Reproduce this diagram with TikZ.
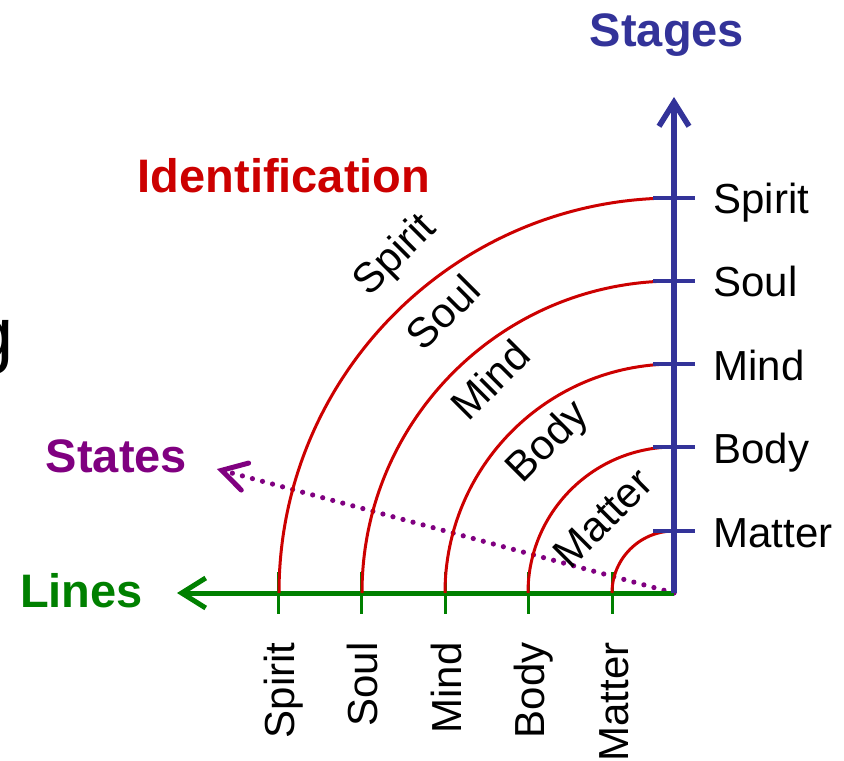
\documentclass[tikz,border=0pt]{standalone}
\usepackage{fontspec}
\setmainfont{Liberation Sans}
\usetikzlibrary{arrows.meta}
\definecolor{stblue}{RGB}{51,51,153}
\definecolor{stred}{RGB}{204,0,0}
\definecolor{stgreen}{RGB}{0,128,0}
\definecolor{stpurple}{RGB}{128,0,128}
\tikzset{
  axisarrow/.style={line width=2.8pt, -{Straight Barb[length=12pt,width=15pt]}},
  bluetick/.style={stblue, line width=1.7pt},
  greentick/.style={stgreen, line width=1.5pt},
  arcline/.style={stred, line width=1.5pt},
  lbl/.style={inner sep=0pt, font=\fontsize{21}{25}\selectfont},
  ttl/.style={inner sep=0pt, font=\fontsize{23.5}{28}\selectfont\bfseries},
  statesline/.style={stpurple, line width=2.6pt, line cap=round, dash pattern=on 0pt off 5.2pt,
    -{Straight Barb[length=12pt,width=14pt,line width=2.5pt,line cap=round]}},
}
\begin{document}
\begin{tikzpicture}[x=0.5pt,y=0.5pt]
\useasboundingbox (-674,-167) rectangle (170,593);
\coordinate (O) at (0,0);
\coordinate (stagetip) at (0,496);
\coordinate (linetip) at (-497,0);
\coordinate (statetip) at (-457,124);
% clipped letter at left edge
\node[anchor=base west, inner sep=0pt, font=\fontsize{37}{44}\selectfont] (gfrag) at (-702,233) {g};
% states arrow
\draw[statesline] (O) -- (statetip);
% green axis and ticks
\draw[axisarrow, stgreen, line width=2.5pt] (O) -- (linetip);
\foreach \r/\n in {62/Matter,146/Body,229/Mind,312/Soul,395/Spirit}{
  \draw[greentick] (-\r,21) -- (-\r,-21);
  \node[lbl, rotate=90, anchor=base east] (b\n) at (-\r+16,-49) {\n};
}
% arcs
\foreach \r in {62,146,229,312,395}{
  \draw[arcline] (0,\r) arc[start angle=90, end angle=180, radius=\r];
}
% blue axis and ticks
\draw[axisarrow, stblue] (O) -- (stagetip);
\foreach \r/\n in {62/Matter,146/Body,229/Mind,312/Soul,395/Spirit}{
  \draw[bluetick] (-21,\r) -- (21,\r);
  \node[lbl, anchor=base west] (s\n) at (39,\r-16) {\n};
}
% arc labels
\node[lbl, rotate=45] (aMatter) at (-71,75) {Matter};
\node[lbl, rotate=45] (aBody) at (-125,150) {Body};
\node[lbl, rotate=45] (aMind) at (-184,213) {Mind};
\node[lbl, rotate=45] (aSoul) at (-231,281) {Soul};
\node[lbl, rotate=45] (aSpirit) at (-278,337) {Spirit};
% titles
\node[ttl, stblue, anchor=base] (tStages) at (-7,546) {Stages};
\node[ttl, stred, anchor=base] (tIdent) at (-390,400) {Identification};
\node[ttl, stpurple, anchor=base] (tStates) at (-557.5,121) {States};
\node[ttl, stgreen, anchor=base] (tLines) at (-592.5,-14) {Lines};
\end{tikzpicture}
\end{document}
